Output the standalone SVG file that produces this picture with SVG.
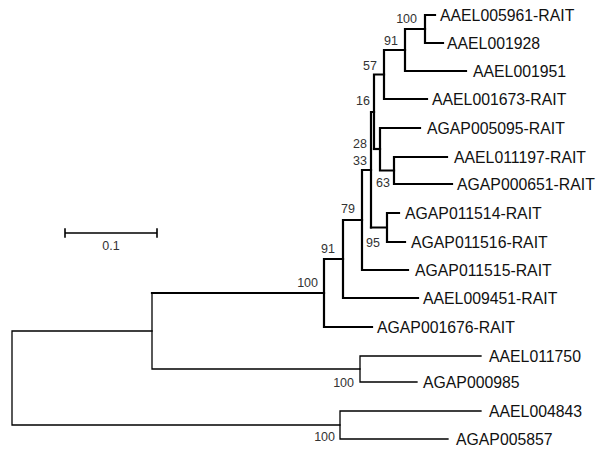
<svg xmlns="http://www.w3.org/2000/svg" width="602" height="455" viewBox="0 0 602 455">
<style>
.leaf{font-family:"Liberation Sans",Arial,sans-serif;font-size:15.8px;fill:#111}
.bs{font-family:"Liberation Sans",Arial,sans-serif;font-size:12.5px;fill:#333;text-anchor:end}
.thick{fill:none;stroke:#000;stroke-width:2.2;stroke-linecap:square}
.thin{fill:none;stroke:#000;stroke-width:1.3;stroke-linecap:square}
.sb{font-family:"Liberation Sans",Arial,sans-serif;font-size:12.5px;fill:#333;text-anchor:middle}
</style>
<rect width="602" height="455" fill="#fff"/>
<g id="connectors">
  <path class="thick" d="M425,15 V43 M425,15 H435 M425,43 H443"/>
  <path class="thick" d="M405,29 H425 M405,29 V71 M405,71 H466"/>
  <path class="thick" d="M384,50 H405 M384,50 V99 M384,99 H427"/>
  <path class="thick" d="M374,74.5 H384 M374,74.5 V149"/>
  <path class="thick" d="M394,157 V184 M394,157 H447 M394,184 H452"/>
  <path class="thick" d="M380,128 V170.5 M380,128 H420 M380,170.5 H394"/>
  <path class="thick" d="M374,149 H380"/>
  <path class="thick" d="M371,112 H374 M371,112 V227.5"/>
  <path class="thick" d="M387,213 V242 M387,213 H399 M387,242 H405 M371,227.5 H387"/>
  <path class="thick" d="M362,170 H371 M362,170 V270 M362,270 H408"/>
  <path class="thick" d="M343,220 H362 M343,220 V298 M343,298 H418"/>
  <path class="thick" d="M324,259 H343 M324,259 V327 M324,327 H372"/>
  <path class="thick" d="M152,293 H324"/>
  <path class="thin" d="M152,293 V369 M152,369 H360"/>
  <path class="thin" d="M360,356 V382 M360,356 H481 M360,382 H417"/>
  <path class="thin" d="M12,331 H152 M12,331 V425 M12,425 H340"/>
  <path class="thin" d="M340,411 V439 M340,411 H481 M340,439 H448"/>
</g>
<g id="leaf-AAEL005961-RAIT"><text class="leaf" x="440" y="20.5">AAEL005961-RAIT</text></g>
<g id="leaf-AAEL001928"><text class="leaf" x="447" y="48.5">AAEL001928</text></g>
<g id="leaf-AAEL001951"><text class="leaf" x="473" y="76.5">AAEL001951</text></g>
<g id="leaf-AAEL001673-RAIT"><text class="leaf" x="432" y="104.5">AAEL001673-RAIT</text></g>
<g id="leaf-AGAP005095-RAIT"><text class="leaf" x="427" y="133.5">AGAP005095-RAIT</text></g>
<g id="leaf-AAEL011197-RAIT"><text class="leaf" x="454" y="162.5">AAEL011197-RAIT</text></g>
<g id="leaf-AGAP000651-RAIT"><text class="leaf" x="457" y="189.5">AGAP000651-RAIT</text></g>
<g id="leaf-AGAP011514-RAIT"><text class="leaf" x="405" y="218.5">AGAP011514-RAIT</text></g>
<g id="leaf-AGAP011516-RAIT"><text class="leaf" x="411" y="247.5">AGAP011516-RAIT</text></g>
<g id="leaf-AGAP011515-RAIT"><text class="leaf" x="415" y="275.5">AGAP011515-RAIT</text></g>
<g id="leaf-AAEL009451-RAIT"><text class="leaf" x="423" y="303.5">AAEL009451-RAIT</text></g>
<g id="leaf-AGAP001676-RAIT"><text class="leaf" x="377" y="332.5">AGAP001676-RAIT</text></g>
<g id="leaf-AAEL011750"><text class="leaf" x="489" y="361.5">AAEL011750</text></g>
<g id="leaf-AGAP000985"><text class="leaf" x="423" y="387.5">AGAP000985</text></g>
<g id="leaf-AAEL004843"><text class="leaf" x="489" y="416.5">AAEL004843</text></g>
<g id="leaf-AGAP005857"><text class="leaf" x="456" y="444.5">AGAP005857</text></g>
<g id="node-bs100a"><text class="bs" x="417" y="22.5">100</text></g>
<g id="node-bs91a"><text class="bs" x="398" y="44.5">91</text></g>
<g id="node-bs57"><text class="bs" x="377" y="69.5">57</text></g>
<g id="node-bs16"><text class="bs" x="370" y="105">16</text></g>
<g id="node-bs28"><text class="bs" x="367" y="147.5">28</text></g>
<g id="node-bs33"><text class="bs" x="367" y="164.5">33</text></g>
<g id="node-bs63"><text class="bs" x="390" y="186.5">63</text></g>
<g id="node-bs79"><text class="bs" x="355" y="212.5">79</text></g>
<g id="node-bs95"><text class="bs" x="380" y="246.5">95</text></g>
<g id="node-bs91b"><text class="bs" x="335" y="252.5">91</text></g>
<g id="node-bs100b"><text class="bs" x="318" y="286.5">100</text></g>
<g id="node-bs100c"><text class="bs" x="354" y="386.5">100</text></g>
<g id="node-bs100d"><text class="bs" x="335" y="440.5">100</text></g>
<g id="scale-bar">
  <path class="thin" d="M65,233 H157 M65,229 V237 M157,229 V237" style="stroke-width:1.6"/>
  <text class="sb" x="111" y="249.5">0.1</text>
</g>
</svg>
